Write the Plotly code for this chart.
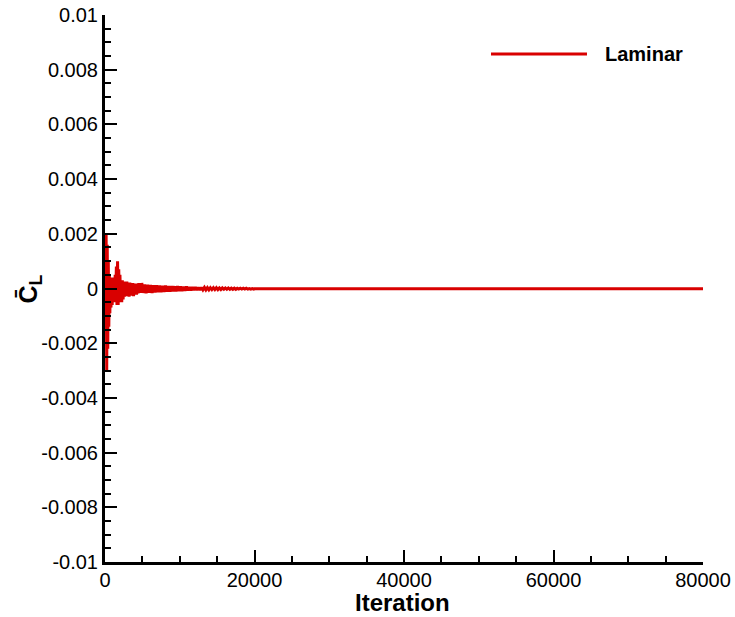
import plotly.graph_objects as go

# ---- data ----
iter_early = [0, 150, 230, 300, 370, 440, 510, 580, 650, 720, 800, 880, 960, 1040,
              1120, 1200, 1280, 1360, 1440, 1520, 1600, 1680, 1760, 1840, 1920,
              2000, 2080, 2160, 2240, 2320, 2420, 2520, 2620, 2720, 2820, 2920,
              3020, 3120, 3220, 3320, 3420, 3520, 3620, 3720, 3820, 3920, 4020,
              4120, 4220, 4320, 4420, 4520, 4620, 4720, 4820, 4920]
cl_early = [0.0, 0.0020, -0.0030, 0.0016, -0.0022, 0.0010, -0.0014, 0.0005, -0.0009,
            0.0004, -0.0007, 0.0003, -0.0006, 0.0004, -0.0005, 0.0003, -0.0005,
            0.0005, -0.0004, 0.0008, -0.0006, 0.0010, -0.0006, 0.0007, -0.0005,
            0.0005, -0.0004, 0.0003, -0.0005, 0.0003, -0.0004, 0.00025, -0.0003,
            0.0002, -0.00028, 0.00025, -0.00025, 0.0002, -0.0003, 0.00022,
            -0.00026, 0.0002, -0.00022, 0.0002, -0.00028, 0.00015, -0.0002,
            0.00018, -0.00022, 0.00016, -0.00018, 0.0002, -0.00015, 0.00018,
            -0.00016, 0.0002]

iter_mid = [5100, 5300, 5500, 5700, 5900, 6100, 6300, 6500, 6700, 6900, 7100, 7300,
            7500, 7700, 7900, 8100, 8300, 8500, 8700, 8900, 9100, 9300, 9500, 9700,
            9900, 10100, 10300, 10500, 10700, 10900, 11100, 11300, 11500, 11700,
            11900, 12100, 12300, 12500, 12700, 12900, 13100, 13300, 13500, 13700,
            13900, 14100, 14300, 14500, 14700, 14900, 15100, 15300, 15500, 15700,
            15900, 16100, 16300, 16500, 16700, 16900, 17100, 17300, 17500, 17700,
            17900, 18100, 18300, 18500, 18700, 18900, 19100, 19300, 19500, 19700,
            19900]
cl_mid = [-0.00016, 0.00015, -0.00017, 0.00014, -0.00015, 0.00013, -0.00016, 0.00012,
          -0.00014, 0.00012, -0.00013, 0.00011, -0.00013, 0.00010, -0.00012, 0.00011,
          -0.00011, 0.00009, -0.00011, 0.00009, -0.00010, 0.00008, -0.00010, 0.00008,
          -0.00009, 0.00007, -0.00009, 0.00006, -0.00008, 0.00007, -0.00007, 0.00005,
          -0.00007, 0.00005, -0.00006, 0.00005, -0.00006, 0.00004, -0.00006, 0.00004,
          -0.00005, 0.00004, -0.00005, 0.00003, -0.00005, 0.00003, -0.00004, 0.00003,
          -0.00004, 0.00003, -0.00004, 0.00002, -0.00004, 0.00002, -0.00003, 0.00002,
          -0.00003, 0.00002, -0.00003, 0.00001, -0.00003, 0.00001, -0.00003, 0.00001,
          -0.00002, 0.00001, -0.00002, 0.00001, -0.00002, 0.00001, -0.00002, 0.0,
          -0.00002, 0.0, -0.00002]

iter_late = [20000, 21000, 22000, 23000, 24000, 25000, 26000, 27000, 28000, 29000,
             30000, 31000, 32000, 33000, 34000, 35000, 36000, 37000, 38000, 39000,
             40000, 41000, 42000, 43000, 44000, 45000, 46000, 47000, 48000, 49000,
             50000, 51000, 52000, 53000, 54000, 55000, 56000, 57000, 58000, 59000,
             60000, 61000, 62000, 63000, 64000, 65000, 66000, 67000, 68000, 69000,
             70000, 71000, 72000, 73000, 74000, 75000, 76000, 77000, 78000, 79000,
             80000]
cl_late = [-0.00001, -0.00001, -0.00002, -0.00001, -0.00001, -0.00001, -0.00002,
           -0.00001, -0.00001, -0.00001, -0.00001, -0.00002, -0.00001, -0.00001,
           -0.00001, -0.00001, -0.00002, -0.00001, -0.00001, -0.00001, -0.00001,
           -0.00001, -0.00002, -0.00001, -0.00001, -0.00001, -0.00001, -0.00002,
           -0.00001, -0.00001, -0.00001, -0.00001, -0.00001, -0.00002, -0.00001,
           -0.00001, -0.00001, -0.00002, -0.00001, -0.00001, -0.00001, -0.00001,
           -0.00001, -0.00002, -0.00001, -0.00001, -0.00001, -0.00001, -0.00002,
           -0.00001, -0.00001, -0.00001, -0.00001, -0.00002, -0.00001, -0.00001,
           -0.00001, -0.00001, -0.00002, -0.00001, -0.00001]

y_tickvals = [0.01, 0.008, 0.006, 0.004, 0.002, 0, -0.002, -0.004, -0.006, -0.008, -0.01]
y_ticktext = ["0.01", "0.008", "0.006", "0.004", "0.002", "0", "-0.002", "-0.004",
              "-0.006", "-0.008", "-0.01"]
x_tickvals = [0, 20000, 40000, 60000, 80000]
x_ticktext = ["0", "20000", "40000", "60000", "80000"]

series_name = "Laminar"
x_title = "Iteration"
red = "#d90000"
font_family = "Arial, 'Liberation Sans', sans-serif"

x = iter_early + iter_mid + iter_late
y = cl_early + cl_mid + cl_late

fig = go.Figure()
fig.add_trace(go.Scatter(x=x, y=y, mode="lines", name=series_name,
                         line=dict(color=red, width=3), showlegend=False))

# legend drawn manually (long line sample)
fig.add_shape(type="line", xref="paper", yref="paper",
              x0=0.6455, x1=0.806, y0=0.9287, y1=0.9287,
              line=dict(color=red, width=3))
fig.add_annotation(xref="paper", yref="paper", x=0.8328, y=0.9287,
                   text="<b>" + series_name + "</b>", showarrow=False,
                   xanchor="left", yanchor="middle",
                   font=dict(family=font_family, size=20, color="black"))

# y-axis title (rotated)
fig.add_annotation(xref="paper", yref="paper", x=-0.1254, y=0.4982,
                   text="<b>C\u0304<sub>L</sub></b>", showarrow=False, textangle=-90,
                   xanchor="center", yanchor="middle",
                   font=dict(family=font_family, size=25, color="black"))

# x-axis title
fig.add_annotation(xref="paper", yref="paper", x=0.497, y=-0.0735,
                   text="<b>" + x_title + "</b>", showarrow=False,
                   xanchor="center", yanchor="middle", borderpad=0,
                   font=dict(family=font_family, size=24, color="black"))

fig.update_layout(
    width=735, height=617,
    margin=dict(l=105, r=32, t=15, b=55),
    plot_bgcolor="white", paper_bgcolor="white",
    font=dict(family=font_family, color="black"),
)
fig.update_xaxes(
    range=[0, 80000], tickvals=x_tickvals, ticktext=x_ticktext,
    automargin=False,
    showgrid=False, zeroline=False,
    showline=True, linecolor="black", linewidth=3,
    ticks="inside", ticklen=12, tickwidth=2, tickcolor="black",
    ticklabelstandoff=-2,
    minor=dict(dtick=5000, ticks="inside", ticklen=6, tickwidth=1.5, tickcolor="black"),
    tickfont=dict(size=20, family=font_family),
)
fig.update_yaxes(
    range=[-0.01, 0.01], tickvals=y_tickvals, ticktext=y_ticktext,
    automargin=False,
    showgrid=False, zeroline=False,
    showline=True, linecolor="black", linewidth=3,
    ticks="inside", ticklen=12, tickwidth=2, tickcolor="black",
    minor=dict(dtick=0.0005, ticks="inside", ticklen=6, tickwidth=1.5, tickcolor="black"),
    tickfont=dict(size=20, family=font_family),
)

fig.write_html("out.html")
